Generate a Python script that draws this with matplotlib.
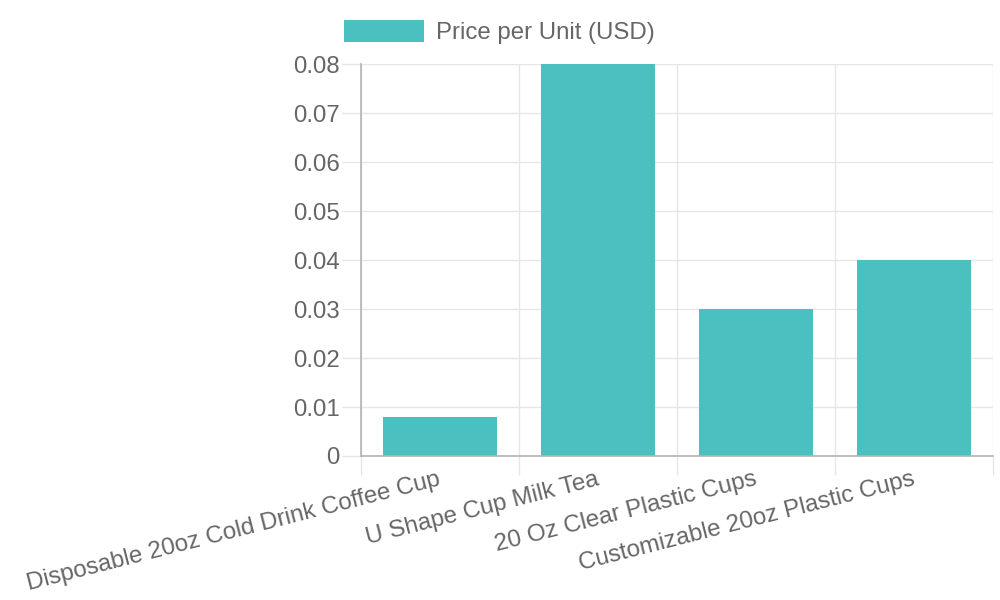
import matplotlib
matplotlib.use("Agg")
import matplotlib.pyplot as plt
import numpy as np

categories = ["Disposable 20oz Cold Drink Coffee Cup", "U Shape Cup Milk Tea",
              "20 Oz Clear Plastic Cups", "Customizable 20oz Plastic Cups"]
prices = [0.008, 0.08, 0.03, 0.04]
y_ticks = [0, 0.01, 0.02, 0.03, 0.04, 0.05, 0.06, 0.07, 0.08]
y_tick_labels = ["0", "0.01", "0.02", "0.03", "0.04", "0.05", "0.06", "0.07", "0.08"]
series_name = "Price per Unit (USD)"

plt.rcParams['font.family'] = ['Liberation Sans', 'DejaVu Sans']
TXT = "#666666"
GRID = "#e6e6e6"
AXIS = "#b3b3b3"
BAR = "#4BC0C0"
FS = 17.3

fig = plt.figure(figsize=(10, 6), dpi=100)
ax = fig.add_axes([0.361, 0.24, 0.632, 0.6533])

x = np.arange(len(categories))
ax.bar(x, prices, width=0.72, color=BAR, label=series_name, zorder=2)

ax.set_xlim(-0.5, len(categories) - 0.5)
ax.set_ylim(0, 0.08)

ax.set_xticks(x)
ax.set_xticklabels(categories, rotation=14.3, ha='right', va='center',
                   rotation_mode='anchor', fontsize=17.4, color=TXT)
ax.set_xticks(np.arange(-0.5, len(categories), 1.0), minor=True)
ax.tick_params(axis='x', which='major', length=0, pad=16.5)
ax.tick_params(axis='x', which='minor', length=13.7, width=1, color=GRID)

ax.set_yticks(y_ticks)
ax.set_yticklabels(y_tick_labels, fontsize=FS, color=TXT)
ax.tick_params(axis='y', which='major', length=13.7, width=1, color=GRID, pad=1.5)

ax.grid(True, axis='x', which='minor', color=GRID, linewidth=1, zorder=0)
ax.grid(True, axis='y', which='major', color=GRID, linewidth=1, zorder=0)
ax.set_axisbelow(True)

for s in ['top', 'right']:
    ax.spines[s].set_visible(False)
for s in ['left', 'bottom']:
    ax.spines[s].set_color(AXIS)
    ax.spines[s].set_linewidth(1.2)
    ax.spines[s].set_zorder(3)

fig.canvas.draw()
ax.xaxis.get_minor_ticks()[0].tick1line.set_color(AXIS)
ax.yaxis.get_major_ticks()[0].tick1line.set_color(AXIS)

leg = ax.legend(loc='center', bbox_to_anchor=(0.499, 1 - 32 / 600),
                bbox_transform=fig.transFigure, frameon=False, fontsize=FS,
                handlelength=3.33, handleheight=1.0, handletextpad=0.5,
                borderpad=0, borderaxespad=0)
for t in leg.get_texts():
    t.set_color(TXT)

fig.savefig("out.png", dpi=100)
